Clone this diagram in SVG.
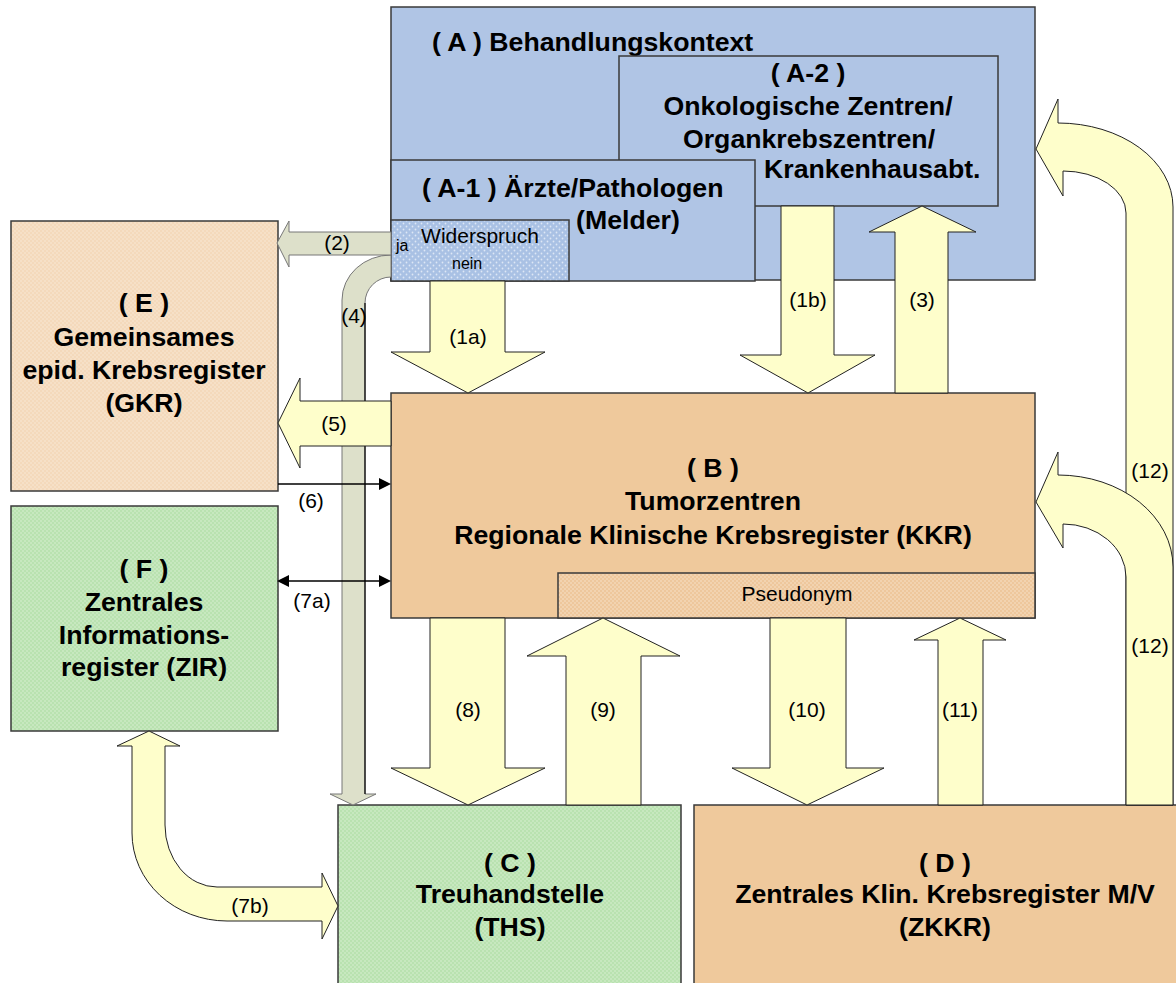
<svg xmlns="http://www.w3.org/2000/svg" width="1176" height="983" viewBox="0 0 1176 983">
<style>
.t{font-family:'Liberation Sans',Arial,Helvetica,sans-serif;font-weight:bold;font-size:26.7px;fill:#000}
.c{text-anchor:middle}
.l{font-family:'Liberation Sans',Arial,Helvetica,sans-serif;font-size:21px;fill:#000;text-anchor:middle}
.s{font-family:'Liberation Sans',Arial,Helvetica,sans-serif;font-size:16px;fill:#000}
.box{stroke:#3a3a3a;stroke-width:1.5}
.ya{fill:#fefecb;stroke:#222;stroke-width:1}
.ga{fill:#dde0ca;stroke:#777;stroke-width:1}
.ln{stroke:#000;stroke-width:1.5;fill:none}
</style>
<defs>
<pattern id="pE" width="4" height="4" patternUnits="userSpaceOnUse"><rect width="4" height="4" fill="#f4d9bb"/><circle cx="1" cy="1" r="0.8" fill="#fae9d6"/><circle cx="3" cy="3" r="0.8" fill="#fae9d6"/></pattern>
<pattern id="pG" width="4" height="4" patternUnits="userSpaceOnUse"><rect width="4" height="4" fill="#b9e2b0"/><circle cx="1" cy="1" r="0.8" fill="#d9f1d3"/><circle cx="3" cy="3" r="0.8" fill="#d9f1d3"/></pattern>
<pattern id="pB" width="6" height="6" patternUnits="userSpaceOnUse"><rect width="6" height="6" fill="#a9c1e4"/><circle cx="1.5" cy="1.5" r="0.9" fill="#dde7f5"/><circle cx="4.5" cy="4.5" r="0.9" fill="#dde7f5"/></pattern>
<pattern id="pP" width="4" height="4" patternUnits="userSpaceOnUse"><rect width="4" height="4" fill="#eec79c"/><circle cx="1" cy="1" r="0.8" fill="#f8e2c9"/><circle cx="3" cy="3" r="0.8" fill="#f8e2c9"/></pattern>
</defs>
<rect width="1176" height="983" fill="#fff"/>

<g id="A">
<rect class="box" x="391" y="7" width="644" height="273" fill="#b0c5e5"/>
<text class="t" x="432" y="51">( A ) Behandlungskontext</text>
</g>
<g id="A2">
<rect class="box" x="619" y="56" width="379" height="150" fill="#b0c5e5"/>
<text class="t c" x="808" y="82">( A-2 )</text>
<text class="t c" x="808" y="115">Onkologische Zentren/</text>
<text class="t c" x="809" y="148">Organkrebszentren/</text>
<text class="t" x="764" y="178">Krankenhausabt.</text>
</g>
<g id="A1">
<rect class="box" x="391" y="160" width="364" height="121" fill="#b0c5e5"/>
<text class="t" x="422" y="197">( A-1 ) Ärzte/Pathologen</text>
<text class="t c" x="628" y="229">(Melder)</text>
</g>
<g id="Widerspruch">
<rect class="box" x="391" y="220" width="178" height="61" fill="url(#pB)"/>
<text class="l" x="480" y="243">Widerspruch</text>
<text class="s" x="396" y="251">ja</text>
<text class="s" x="452" y="269">nein</text>
</g>
<g id="B">
<rect class="box" x="391" y="393" width="644" height="225" fill="#efc99c"/>
<text class="t c" x="713" y="477">( B )</text>
<text class="t c" x="713" y="510">Tumorzentren</text>
<text class="t c" x="713" y="544">Regionale Klinische Krebsregister (KKR)</text>
</g>
<g id="Pseudonym">
<rect class="box" x="558" y="573" width="477" height="45" fill="url(#pP)"/>
<text class="l" x="797" y="601">Pseudonym</text>
</g>
<g id="E">
<rect class="box" x="11" y="221" width="267" height="270" fill="url(#pE)"/>
<text class="t c" x="144" y="312">( E )</text>
<text class="t c" x="144" y="346">Gemeinsames</text>
<text class="t c" x="144" y="379">epid. Krebsregister</text>
<text class="t c" x="144" y="412">(GKR)</text>
</g>
<g id="F">
<rect class="box" x="11" y="506" width="267" height="225" fill="url(#pG)"/>
<text class="t c" x="144" y="578">( F )</text>
<text class="t c" x="144" y="611">Zentrales</text>
<text class="t c" x="144" y="644">Informations-</text>
<text class="t c" x="144" y="676">register (ZIR)</text>
</g>
<g id="C">
<rect class="box" x="338" y="805" width="343" height="182" fill="url(#pG)"/>
<text class="t c" x="510" y="872">( C )</text>
<text class="t c" x="510" y="903">Treuhandstelle</text>
<text class="t c" x="510" y="936">(THS)</text>
</g>
<g id="D">
<rect class="box" x="694" y="805" width="484" height="182" fill="#efc99c"/>
<text class="t c" x="945" y="872">( D )</text>
<text class="t c" x="945" y="903">Zentrales Klin. Krebsregister M/V</text>
<text class="t c" x="945" y="936">(ZKKR)</text>
</g>

<g id="connectors">
<path class="ga" d="M391 255 A49 45 0 0 0 342 300 L342 794 L330 794 L353 805 L376 794 L365 794 L365 303 A26 26 0 0 1 391 277 Z"/>
<line x1="365" y1="303" x2="365" y2="794" stroke="#000" stroke-width="1.2"/>
<text class="l" x="354" y="323">(4)</text>
<path class="ga" d="M391 232 L289 232 L289 221 L277 243 L289 267 L289 255 L391 255 Z"/>
<text class="l" x="337" y="250">(2)</text>
<path class="ya" d="M430 281 L505 281 L505 352 L545 352 L468 393 L391 352 L430 352 Z"/>
<text class="l" x="468" y="344">(1a)</text>
<path class="ya" d="M781 206 L834 206 L834 355 L875 355 L808 393 L740 355 L781 355 Z"/>
<text class="l" x="808" y="307">(1b)</text>
<path class="ya" d="M895 393 L895 232 L869 232 L922 206 L976 232 L948 232 L948 393 Z"/>
<text class="l" x="922" y="307">(3)</text>
<path class="ya" d="M391 401 L300 401 L300 378 L278 423 L300 468 L300 446 L391 446 Z"/>
<text class="l" x="334" y="431">(5)</text>
<line class="ln" x1="278" y1="484" x2="381" y2="484"/>
<polygon points="379,478 391,484 379,490" fill="#000"/>
<text class="l" x="311" y="508">(6)</text>
<line class="ln" x1="287" y1="581" x2="381" y2="581"/>
<polygon points="379,575 391,581 379,587" fill="#000"/>
<polygon points="289,575 277,581 289,587" fill="#000"/>
<text class="l" x="312" y="608">(7a)</text>
<path class="ya" d="M149 731 L180 746 L165 746 L165 825 A52 62 0 0 0 217 887 L322 887 L322 873 L338 906 L322 939 L322 921 L227 921 A95 88 0 0 1 132 833 L132 746 L117 746 Z"/>
<text class="l" x="250" y="913">(7b)</text>
<path class="ya" d="M430 618 L505 618 L505 768 L545 768 L468 805 L391 768 L430 768 Z"/>
<text class="l" x="468" y="717">(8)</text>
<path class="ya" d="M566 805 L566 656 L527 656 L603 618 L680 656 L641 656 L641 805 Z"/>
<text class="l" x="603" y="717">(9)</text>
<path class="ya" d="M770 618 L846 618 L846 768 L884 768 L807 805 L732 768 L770 768 Z"/>
<text class="l" x="807" y="717">(10)</text>
<path class="ya" d="M938 805 L938 640 L914 640 L960 618 L1006 640 L983 640 L983 805 Z"/>
<text class="l" x="960" y="717">(11)</text>
<path class="ya" d="M1126 805 L1126 213 A63 42 0 0 0 1063 171 L1063 196 L1036 149 L1058 99 L1058 123 A115 84 0 0 1 1173 207 L1173 805 Z"/>
<text class="l" x="1150" y="478">(12)</text>
<path class="ya" d="M1126 805 L1126 577 A63 53 0 0 0 1063 524 L1063 548 L1036 502 L1058 452 L1058 475 A115 92 0 0 1 1173 567 L1173 805 Z"/>
<text class="l" x="1150" y="653">(12)</text>
</g>
</svg>
